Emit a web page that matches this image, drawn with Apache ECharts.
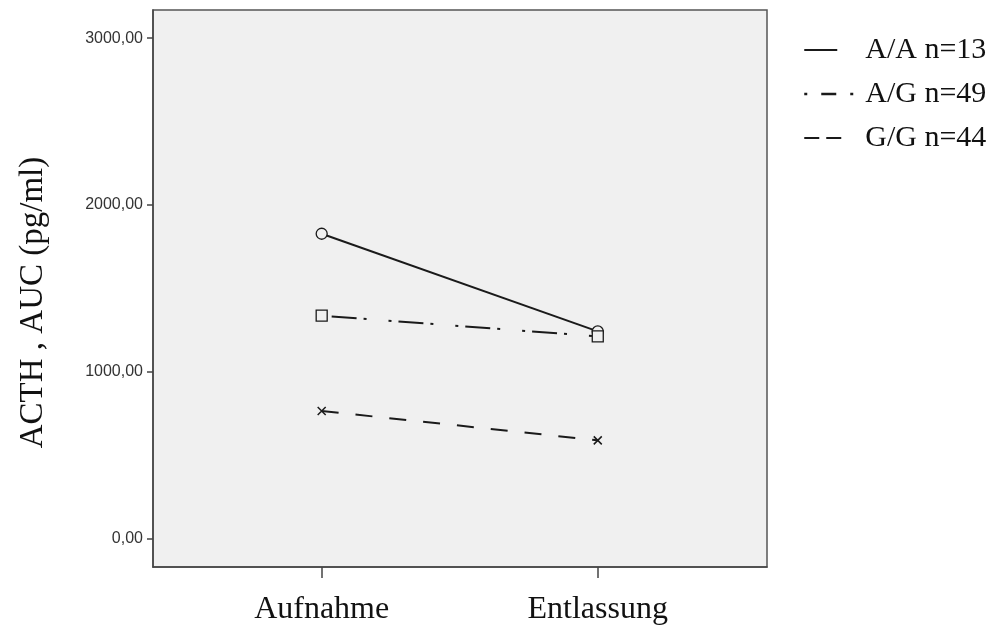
<!DOCTYPE html>
<html>
<head>
<meta charset="utf-8">
<script src="https://cdn.jsdelivr.net/npm/echarts@6/dist/echarts.min.js"></script>
<style>html,body{margin:0;padding:0;background:#fff;}#c{width:1005px;height:628px;}</style>
</head>
<body>
<div id="c"></div>
<script>
const categories = ['Aufnahme', 'Entlassung'];
const seriesNames = ['A/A n=13', 'A/G n=49', 'G/G n=44'];
const valuesAA = [1828, 1243];
const valuesAG = [1337, 1213];
const valuesGG = [766, 590];
const yTicks = [0, 1000, 2000, 3000];
const yTitle = 'ACTH , AUC (pg/ml)';

const lineColor = '#1a1a1a';
const bg = '#f0f0f0';
const toPairs = vals => vals.map((v, i) => [i, v]);
const xMark = 'path://M0,0L10,10M10,0L0,10';

const chart = echarts.init(document.getElementById('c'), null, {renderer: 'canvas'});
chart.setOption({
  animation: false,
  backgroundColor: '#fff',
  grid: {
    left: 153, right: 238, top: 10, bottom: 61,
    show: true, backgroundColor: bg, borderColor: '#555', borderWidth: 1.5
  },
  legend: {
    orient: 'vertical',
    left: 798, top: 30,
    itemWidth: 49, itemHeight: 14, itemGap: 14,
    textStyle: {fontFamily: 'Liberation Serif', fontSize: 30, color: '#111', padding: [0, 0, 0, 7]},
    itemStyle: {color: 'transparent', borderColor: 'transparent', borderWidth: 0, opacity: 0},
    data: [
      {name: seriesNames[0], lineStyle: {type: [33, 100], width: 2}},
      {name: seriesNames[1], lineStyle: {type: [3, 14, 15, 14, 3, 100], width: 2.5}},
      {name: seriesNames[2], lineStyle: {type: [15, 7, 15, 100], width: 2}}
    ]
  },
  xAxis: {
    type: 'value',
    min: -0.611, max: 1.613,
    axisLine: {show: true, onZero: false, lineStyle: {color: '#444', width: 1.5}},
    axisTick: {show: true, length: 11, customValues: [0, 1], lineStyle: {color: '#444', width: 1.5}},
    axisLabel: {
      customValues: [0, 1], margin: 27,
      formatter: v => categories[Math.round(v)] || '',
      fontFamily: 'Liberation Serif', fontSize: 32, color: '#111'
    },
    splitLine: {show: false}
  },
  yAxis: {
    type: 'value',
    min: -169, max: 3169,
    name: yTitle,
    nameLocation: 'middle',
    nameGap: 103,
    nameTextStyle: {fontFamily: 'Liberation Serif', fontSize: 33, color: '#111', padding: [0, 28, 0, 0]},
    axisLine: {show: true, onZero: false, lineStyle: {color: '#444', width: 1.5}},
    axisTick: {show: true, length: 6, customValues: yTicks, lineStyle: {color: '#444', width: 1.5}},
    axisLabel: {
      customValues: yTicks, margin: 10,
      formatter: v => v.toFixed(2).replace('.', ','),
      fontFamily: 'Liberation Sans', fontSize: 16, color: '#333'
    },
    splitLine: {show: false}
  },
  series: [
    {
      name: seriesNames[0], type: 'line', data: toPairs(valuesAA),
      symbol: 'circle', symbolSize: 11,
      itemStyle: {color: bg, borderColor: lineColor, borderWidth: 1.3},
      lineStyle: {color: lineColor, width: 2, type: 'solid'}
    },
    {
      name: seriesNames[1], type: 'line', data: toPairs(valuesAG),
      symbol: 'rect', symbolSize: 11,
      itemStyle: {color: bg, borderColor: lineColor, borderWidth: 1.3},
      lineStyle: {color: lineColor, width: 2, type: [3, 7, 25, 7, 3, 22]}
    },
    {
      name: seriesNames[2], type: 'line', data: toPairs(valuesGG),
      symbol: xMark, symbolSize: 8,
      itemStyle: {color: 'none', borderColor: lineColor, borderWidth: 1.5},
      lineStyle: {color: lineColor, width: 2, type: [17, 17]}
    }
  ]
});
</script>
</body>
</html>
